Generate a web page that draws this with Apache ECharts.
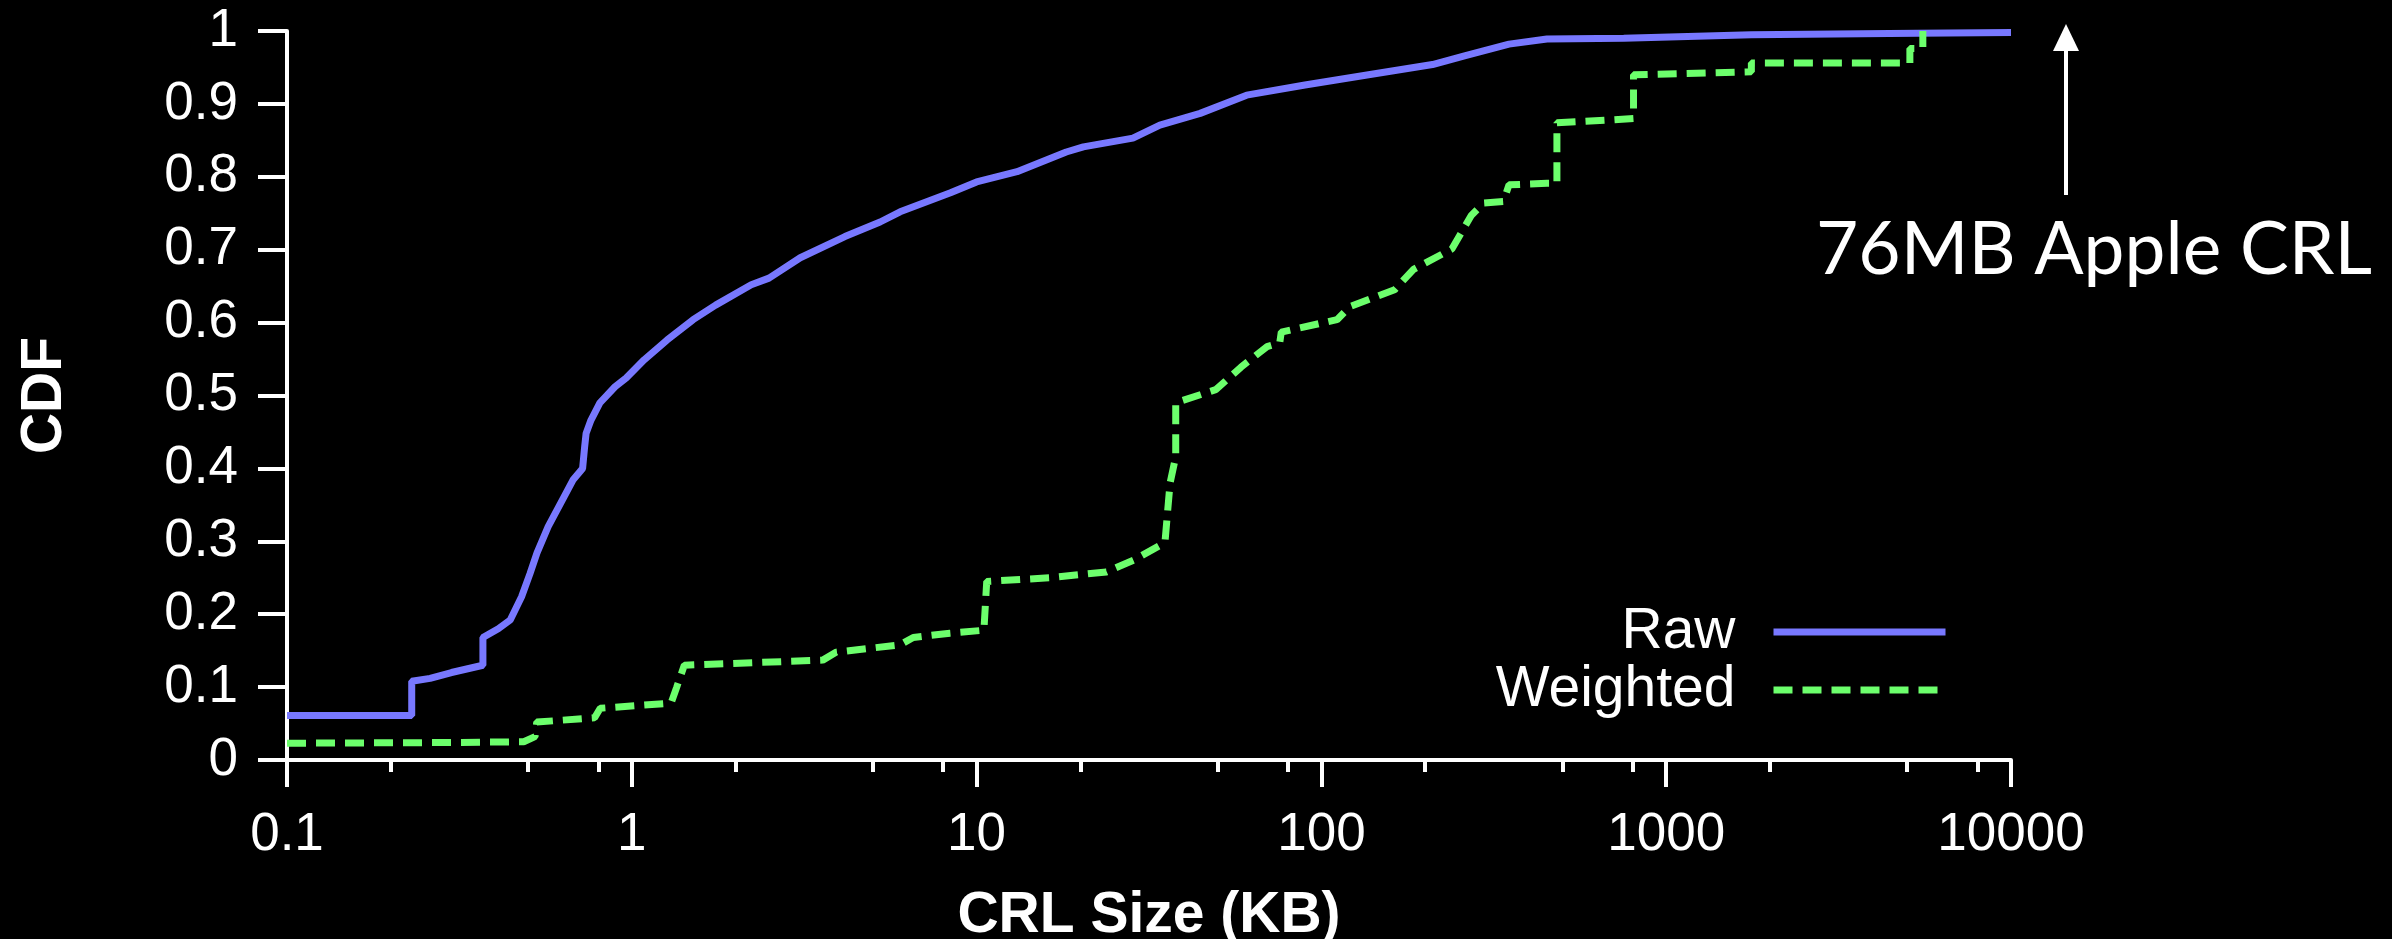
<!DOCTYPE html>
<html>
<head>
<meta charset="utf-8">
<style>
html,body{margin:0;padding:0;background:#000;}
#chart{width:2392px;height:939px;}
</style>
<script src="https://cdn.jsdelivr.net/npm/echarts@6/dist/echarts.min.js"></script>
</head>
<body>
<div id="chart"></div>
<script>
// ---- data (CRL size in KB, CDF) ----
const seriesNames = ['Raw', 'Weighted'];
const rawCdf = [
  [0.1, 0.061], [0.23, 0.061], [0.23, 0.108], [0.26, 0.112], [0.30, 0.120], [0.37, 0.130],
  [0.37, 0.168], [0.41, 0.180], [0.444, 0.192], [0.479, 0.224], [0.507, 0.256], [0.531, 0.284],
  [0.572, 0.320], [0.636, 0.361], [0.675, 0.384], [0.72, 0.400], [0.73, 0.430], [0.737, 0.448],
  [0.761, 0.466], [0.808, 0.490], [0.894, 0.512], [0.963, 0.524], [1.086, 0.549], [1.265, 0.576],
  [1.506, 0.604], [1.75, 0.624], [2.22, 0.652], [2.50, 0.661], [3.08, 0.689], [4.15, 0.718],
  [5.25, 0.738], [6.0, 0.752], [8.4, 0.778], [10, 0.793], [13.1, 0.807], [18.2, 0.834],
  [20.4, 0.841], [28.4, 0.853], [34, 0.871], [44.5, 0.887], [60.7, 0.912], [89.6, 0.926],
  [137, 0.940], [210, 0.954], [260, 0.966], [350, 0.982], [451, 0.989], [753, 0.990],
  [1766, 0.995], [5340, 0.997], [10000, 0.998]
];
const weightedCdf = [
  [0.1, 0.023], [0.3, 0.024], [0.486, 0.025], [0.524, 0.032], [0.53, 0.052], [0.78, 0.058],
  [0.81, 0.071], [1.30, 0.078], [1.35, 0.100], [1.42, 0.130], [3.58, 0.137], [3.92, 0.148],
  [6.0, 0.158], [6.55, 0.168], [8.37, 0.174], [10.5, 0.178], [10.7, 0.245], [16.3, 0.250],
  [23.8, 0.258], [28.5, 0.274], [34.8, 0.297], [35.2, 0.300], [36.4, 0.380], [37.8, 0.416],
  [37.8, 0.490], [49.4, 0.508], [58.5, 0.539], [69.5, 0.567], [75.7, 0.572], [76.5, 0.587],
  [111, 0.604], [121, 0.622], [163, 0.645], [185, 0.673], [239, 0.701], [272, 0.747],
  [296, 0.764], [337, 0.766], [350, 0.789], [451, 0.791], [482, 0.791], [482, 0.874],
  [692, 0.878], [804, 0.880], [804, 0.940], [1766, 0.944], [1766, 0.956], [5090, 0.956],
  [5090, 0.976], [5550, 0.976], [5550, 1.0]
];
const xMajorTicks = [0.1, 1, 10, 100, 1000, 10000];
const xMinorTicks = [0.2, 0.5, 0.8, 2, 5, 8, 20, 50, 80, 200, 500, 800, 2000, 5000, 8000];
const yTickStep = 0.1;
const xAxisTitle = 'CRL Size (KB)';
const yAxisTitle = 'CDF';
const annotationText = '76MB Apple CRL';

// ---- styles ----
const FONT = 'Liberation Sans';
const WHITE = '#ffffff';
const RAW_COLOR = '#7878ff';
const WEIGHTED_COLOR = '#6cff6c';
const LINE_W = 7;

const chart = echarts.init(document.getElementById('chart'), null, {renderer: 'canvas'});

function fmtNum(v) { return String(+(+v).toPrecision(6)); }

const option = {
  backgroundColor: '#000000',
  animation: false,
  grid: {left: 287, right: 381, top: 31, bottom: 179, containLabel: false, outerBoundsMode: 'none'},
  xAxis: [
    {
      type: 'log', logBase: 10, min: 0.1, max: 10000, position: 'bottom',
      name: xAxisTitle, nameLocation: 'middle', nameGap: 128,
      nameTextStyle: {color: WHITE, fontFamily: FONT, fontWeight: 'bold', fontSize: 57},
      axisLine: {show: true, onZero: false, lineStyle: {color: WHITE, width: 4}},
      axisTick: {show: true, inside: false, length: 27, lineStyle: {color: WHITE, width: 4}, customValues: xMajorTicks},
      axisLabel: {show: true, color: WHITE, fontFamily: FONT, fontSize: 53, margin: 49, formatter: fmtNum, customValues: xMajorTicks},
      splitLine: {show: false}, minorTick: {show: false}
    },
    {
      type: 'log', logBase: 10, min: 0.1, max: 10000, position: 'bottom',
      axisLine: {show: false, onZero: false},
      axisTick: {show: true, inside: false, length: 12, lineStyle: {color: WHITE, width: 4}, customValues: xMinorTicks},
      axisLabel: {show: false},
      splitLine: {show: false}
    }
  ],
  yAxis: {
    type: 'value', min: 0, max: 1, interval: yTickStep,
    name: yAxisTitle, nameLocation: 'middle', nameGap: 213, nameRotate: 90,
    nameTextStyle: {color: WHITE, fontFamily: FONT, fontWeight: 'bold', fontSize: 57},
    axisLine: {show: true, onZero: false, lineStyle: {color: WHITE, width: 4}},
    axisTick: {show: true, inside: false, length: 29, lineStyle: {color: WHITE, width: 4}},
    axisLabel: {color: WHITE, fontFamily: FONT, fontSize: 53, margin: 49, formatter: fmtNum},
    splitLine: {show: false}
  },
  legend: {
    show: true, orient: 'vertical', align: 'right', right: 443, top: 603, padding: 0,
    itemGap: 0, itemWidth: 172, itemHeight: 58,
    textStyle: {color: WHITE, fontFamily: FONT, fontSize: 57, lineHeight: 58, padding: [0, 33, 0, 0]},
    itemStyle: {color: 'rgba(0,0,0,0)', borderWidth: 0, opacity: 0},
    lineStyle: {width: LINE_W},
    data: seriesNames
  },
  series: [
    {
      name: seriesNames[0], type: 'line', data: rawCdf, xAxisIndex: 0,
      showSymbol: false, symbol: 'none', smooth: false,
      lineStyle: {color: RAW_COLOR, width: LINE_W, type: 'solid'},
      itemStyle: {color: RAW_COLOR}, z: 2
    },
    {
      name: seriesNames[1], type: 'line', data: weightedCdf, xAxisIndex: 0,
      showSymbol: false, symbol: 'none', smooth: false,
      lineStyle: {color: WEIGHTED_COLOR, width: LINE_W, type: [19, 10]},
      itemStyle: {color: WEIGHTED_COLOR}, z: 3
    }
  ],
  graphic: [
    {
      type: 'text', left: 1816, top: 214,
      style: {text: annotationText, fill: WHITE, fontFamily: 'Lato', fontSize: 73}
    },
    {
      type: 'line', shape: {x1: 2066, y1: 195, x2: 2066, y2: 46},
      style: {stroke: WHITE, lineWidth: 4}
    },
    {
      type: 'polygon', shape: {points: [[2053, 51], [2079, 51], [2066, 24]]},
      style: {fill: WHITE}
    }
  ]
};
chart.setOption(option);
</script>
</body>
</html>
